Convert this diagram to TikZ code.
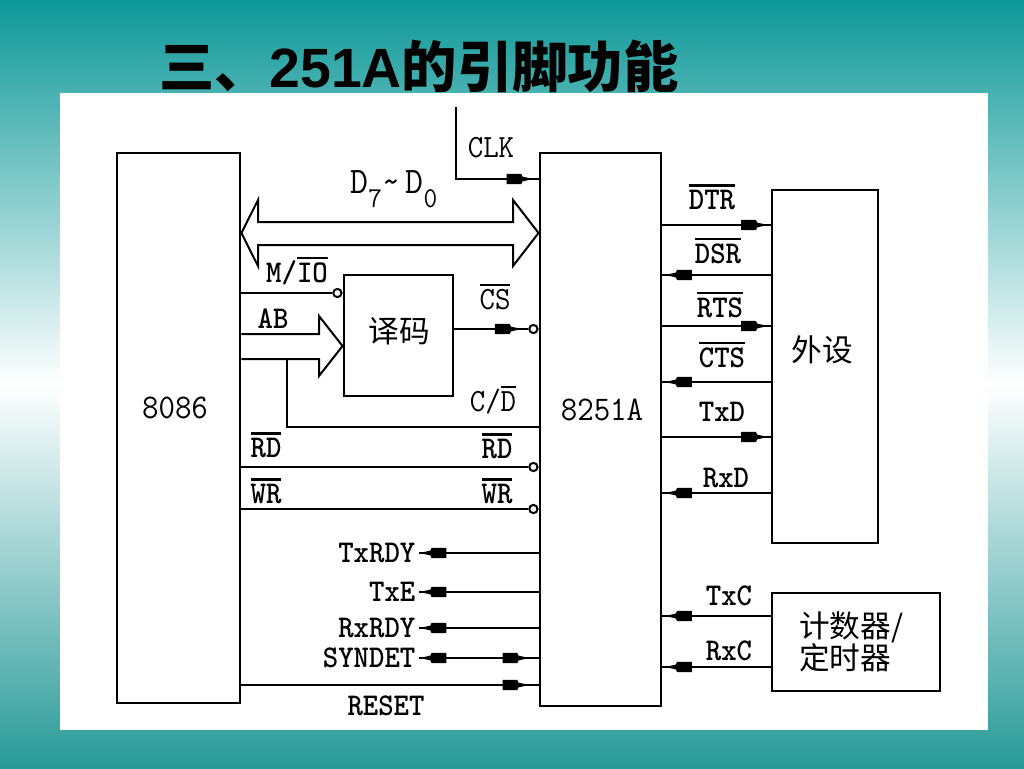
\documentclass[tikz,border=0pt]{standalone}
\usepackage{fontspec}
\setmainfont{Liberation Serif}
\newfontfamily\cjkf{Noto Sans CJK SC}
\newfontfamily\arialf{Liberation Sans}
\newfontfamily\ttbold{lmmonolt10-bold.otf}
\usetikzlibrary{fit,decorations.markings}
\definecolor{tealtop}{RGB}{14,152,152}
\definecolor{tealbot}{RGB}{40,154,152}
\newcommand\ovbar[1]{\leavevmode\vbox{\hrule height 1.6pt\kern 2.4pt\hbox{#1}}}
\newcommand\pinlab[1]{\scalebox{1}[1.08]{#1}}
\newcommand\arrblk{\fill (0,0) -- (-8pt,1.8pt) -- (-9pt,3.9pt) -- (-20pt,3.9pt) -- (-20pt,-3.9pt) -- (-9pt,-3.9pt) -- (-8pt,-1.8pt) -- cycle;}
\newcommand\arrblkr{\fill (0,0) -- (8pt,1.8pt) -- (9pt,3.9pt) -- (20pt,3.9pt) -- (20pt,-3.9pt) -- (9pt,-3.9pt) -- (8pt,-1.8pt) -- cycle;}
\begin{document}
\begin{tikzpicture}[x=0.75pt,y=-0.75pt,line width=1.5pt,
  box/.style={draw,line width=2.2pt,inner sep=0pt,fit={#1}},
  lab/.style={inner sep=0pt,font=\fontsize{22}{24}\selectfont\ttbold},
  labthin/.style={inner sep=0pt,font=\fontsize{22.5}{24}\selectfont\ttfamily},
  zh/.style={inner sep=0pt,font=\fontsize{23}{24}\selectfont\cjkf},
  bub/.style={circle,draw,fill=white,line width=1.5pt,inner sep=0pt,minimum size=6.2pt},
  tipend/.style={postaction={decorate,decoration={markings,mark=at position #1 with {\arrblk}}}},
  tipstart/.style={postaction={decorate,decoration={markings,mark=at position #1 with {\arrblkr}}}}]
% background
\shade[top color=tealtop,bottom color=tealbot,middle color=white] (0,0) rectangle (1024,768);
\useasboundingbox (0,0) rectangle (1024,768);
\fill[white] (60,93) rectangle (988,730);
% title
\node[anchor=west,inner sep=0pt,font=\fontsize{41.5}{48}\selectfont\bfseries] (title) at (158,66)
  {{\cjkf 三、}{\arialf 251A}{\cjkf 的引脚功能}};
% boxes
\node[box={(117,153) (240,703)}] (cpu) {};
\node[box={(540,153) (661,706)}] (usart) {};
\node[box={(344,275) (453,396)}] (dec) {};
\node[box={(772,190) (878,543)}] (per) {};
\node[box={(772,593) (940,691)}] (tim) {};
% box texts
\node[labthin,font=\fontsize{24}{26}\selectfont\ttfamily] (tcpu) at (175,408) {\pinlab{8086}};
\node[labthin,font=\fontsize{24}{26}\selectfont\ttfamily] (tusart) at (602,410) {\pinlab{8251A}};
\node[zh] (tdec) at (399,331) {译码};
\node[zh] (tper) at (822,350) {外设};
\node[zh,anchor=west,align=left] (ttim) at (798,642) {计数器/\\定时器};
% data bus
\draw[fill=white] (cpu.east |- 0,233) -- (258,200) -- (258,222) -- (513,222) -- (513,200)
  -- (usart.west |- 0,233) -- (513,266) -- (513,245) -- (258,245) -- (258,266) -- cycle;
\node[labthin,font=\fontsize{26}{28}\selectfont\ttfamily] (ldata) at (394,189) {\pinlab{D\raisebox{-10pt}{\fontsize{20}{20}\selectfont 7}\char"7E\,D\raisebox{-10pt}{\fontsize{20}{20}\selectfont 0}}};
% CLK
\coordinate (clktop) at (456,107);
\draw[tipend=-4pt] (clktop) |- (usart.west |- 0,179);
\node[labthin] (lclk) at (491,148) {\pinlab{CLK}};
% M/IO
\node[bub,anchor=east] (bmio) at (dec.west |- 0,293) {};
\draw (cpu.east |- 0,293) -- (bmio.west);
\node[lab] (lmio) at (297,271) {\pinlab{M/\ovbar{IO}}};
% AB
\draw[fill=white] (cpu.east |- 0,334) -- (319,334) -- (319,316) -- (dec.west |- 0,346)
  -- (319,376) -- (319,359) -- (cpu.east |- 0,359);
\node[lab] (lab) at (273,319) {\pinlab{AB}};
\coordinate (abtap) at (287,359);
\draw (abtap) |- (usart.west |- 0,427);
\node[labthin] (lcd) at (493,400) {\pinlab{C/\ovbar{D}}};
% CS
\node[bub,anchor=east] (bcs) at (usart.west |- 0,329) {};
\draw[tipend=-5pt] (dec.east |- 0,329) -- (bcs.west);
\node[labthin] (lcs) at (495,297) {\pinlab{\ovbar{CS}}};
% RD, WR
\node[bub,anchor=east] (brd) at (usart.west |- 0,467) {};
\draw (cpu.east |- 0,467) -- (brd.west);
\node[bub,anchor=east] (bwr) at (usart.west |- 0,509) {};
\draw (cpu.east |- 0,509) -- (bwr.west);
\node[lab] (lrd1) at (266,445) {\pinlab{\ovbar{RD}}};
\node[lab] (lrd2) at (497,446) {\pinlab{\ovbar{RD}}};
\node[lab] (lwr1) at (266,491) {\pinlab{\ovbar{WR}}};
\node[lab] (lwr2) at (497,491) {\pinlab{\ovbar{WR}}};
% status outputs
\node[lab,anchor=east,inner xsep=2pt] (ltxrdy) at (419,553) {\pinlab{TxRDY}};
\node[lab,anchor=east,inner xsep=2pt] (ltxe) at (419,592) {\pinlab{TxE}};
\node[lab,anchor=east,inner xsep=2pt] (lrxrdy) at (419,628) {\pinlab{RxRDY}};
\node[lab,anchor=east,inner xsep=2pt] (lsyn) at (419,658) {\pinlab{SYNDET}};
\draw[tipend=-0.5pt] (usart.west |- 0,553) -- (ltxrdy.east);
\draw[tipend=-0.5pt] (usart.west |- 0,592) -- (ltxe.east);
\draw[tipend=-0.5pt] (usart.west |- 0,628) -- (lrxrdy.east);
\draw[tipend=-0.5pt,tipstart=7pt] (usart.west |- 0,658) -- (lsyn.east);
% RESET
\draw[tipend=-7pt] (cpu.east |- 0,685) -- (usart.west |- 0,685);
\node[lab] (lreset) at (386,706) {\pinlab{RESET}};
% modem side
\draw[tipend=-2pt] (usart.east |- 0,225) -- (per.west |- 0,225);
\draw[tipend=-2pt] (per.west |- 0,275) -- (usart.east |- 0,275);
\draw[tipend=-2pt] (usart.east |- 0,326) -- (per.west |- 0,326);
\draw[tipend=-2pt] (per.west |- 0,382) -- (usart.east |- 0,382);
\draw[tipend=-2pt] (usart.east |- 0,437) -- (per.west |- 0,437);
\draw[tipend=-2pt] (per.west |- 0,493) -- (usart.east |- 0,493);
\node[lab] (ldtr) at (712,197) {\pinlab{\ovbar{DTR}}};
\node[lab] (ldsr) at (718,251) {\pinlab{\ovbar{DSR}}};
\node[lab] (lrts) at (720,305) {\pinlab{\ovbar{RTS}}};
\node[lab] (lcts) at (722,355) {\pinlab{\ovbar{CTS}}};
\node[lab] (ltxd) at (722,412) {\pinlab{TxD}};
\node[lab] (lrxd) at (726,478) {\pinlab{RxD}};
% clocks
\draw[tipend=-2pt] (tim.west |- 0,616) -- (usart.east |- 0,616);
\draw[tipend=-2pt] (tim.west |- 0,667) -- (usart.east |- 0,667);
\node[lab] (ltxc) at (729,596) {\pinlab{TxC}};
\node[lab] (lrxc) at (729,651) {\pinlab{RxC}};
\end{tikzpicture}
\end{document}
